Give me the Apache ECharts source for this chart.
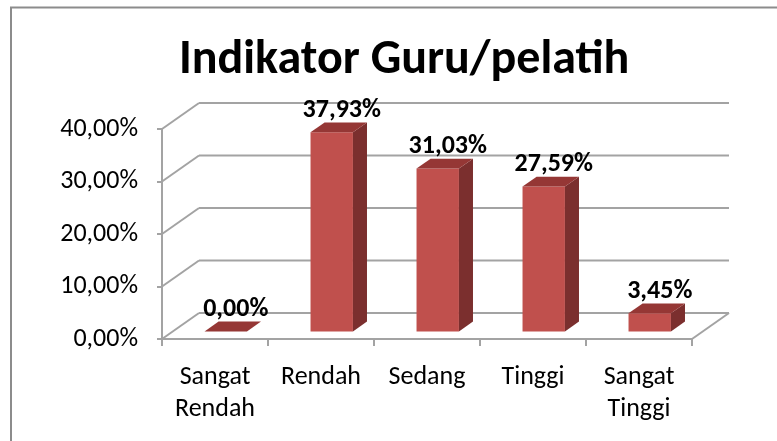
<!DOCTYPE html>
<html>
<head>
<meta charset="utf-8">
<script src="https://cdn.jsdelivr.net/npm/echarts@6/dist/echarts.min.js"></script>
<style>
html,body{margin:0;padding:0;background:#fff;}
#chart{width:777px;height:441px;}
</style>
</head>
<body>
<div id="chart"></div>
<script>
const categories = ['Sangat Rendah', 'Rendah', 'Sedang', 'Tinggi', 'Sangat Tinggi'];
const values = [0.0000, 0.3793, 0.3103, 0.2759, 0.0345];
const gridValues = [0, 0.1, 0.2, 0.3, 0.4];
const titleText = 'Indikator Guru/pelatih';

const FONT = 'Carlito, Calibri, Lato, sans-serif';
const DX = 37, DY = -26;          // depth of the 3D box
const T0 = 0.29, T1 = 0.67;       // bar depth span (fraction of box depth)
const BAR_W = 0.4;                // bar width fraction of band
const GRID_COLOR = '#a3a3a3';

function fmt(v) { return (v * 100).toFixed(2).replace('.', ',') + '%'; }

const chart = echarts.init(document.getElementById('chart'), null, {renderer: 'canvas'});

const option = {
  backgroundColor: '#ffffff',
  animation: false,
  title: {
    text: titleText,
    left: 174,
    top: 32,
    textStyle: {fontFamily: FONT, fontSize: 48, fontWeight: 'bold', color: '#000'}
  },
  graphic: [{
    type: 'polyline',
    shape: {points: [[11, 441], [11, 7.5], [777, 7.5]]},
    style: {stroke: '#8c8c8c', lineWidth: 2, fill: null},
    silent: true
  }],
  grid: {left: 162, right: 85, top: 129, bottom: 102, containLabel: false},
  xAxis: {
    type: 'category',
    data: categories,
    axisLine: {show: true, lineStyle: {color: GRID_COLOR, width: 2}},
    axisTick: {show: true, length: 7, lineStyle: {color: GRID_COLOR, width: 2}},
    axisLabel: {
      interval: 0,
      margin: 22,
      fontFamily: FONT, fontSize: 26, color: '#000', lineHeight: 32,
      formatter: v => v.replace(' ', '\n')
    },
    splitLine: {show: false}
  },
  yAxis: {
    type: 'value',
    min: 0, max: 0.4, interval: 0.1,
    axisLine: {show: true, lineStyle: {color: GRID_COLOR, width: 2}},
    axisTick: {show: true, length: 5, lineStyle: {color: GRID_COLOR, width: 2}},
    axisLabel: {margin: 24, fontFamily: FONT, fontSize: 26, color: '#000', formatter: fmt},
    splitLine: {show: false}
  },
  series: [
    {
      type: 'custom',
      name: 'walls',
      silent: true,
      z: 1,
      data: gridValues.map(v => [0, v]),
      renderItem: function (params, api) {
        const cs = params.coordSys;
        const x0 = cs.x, x1 = cs.x + cs.width;
        const y = api.coord([0, api.value(1)])[1];
        const children = [
          {type: 'line', shape: {x1: x0, y1: y, x2: x0 + DX, y2: y + DY},
           style: {stroke: GRID_COLOR, lineWidth: 2}},
          {type: 'line', shape: {x1: x0 + DX, y1: y + DY, x2: x1 + DX, y2: y + DY},
           style: {stroke: GRID_COLOR, lineWidth: 2}}
        ];
        if (api.value(1) === 0) {
          children.push({type: 'line', shape: {x1: x1, y1: y, x2: x1 + DX, y2: y + DY},
            style: {stroke: GRID_COLOR, lineWidth: 2}});
        }
        return {type: 'group', children: children};
      }
    },
    {
      type: 'custom',
      name: 'bars',
      z: 3,
      data: values.map((v, i) => [i, v]),
      renderItem: function (params, api) {
        const i = api.value(0), v = api.value(1);
        const top = api.coord([i, v]);
        const base = api.coord([i, 0]);
        const band = api.size([1, 0])[0];
        const w = band * BAR_W;
        const ox = DX * T0, oy = DY * T0;
        const dx = DX * (T1 - T0), dy = DY * (T1 - T0);
        const xl = top[0] - w / 2 + ox, xr = xl + w;
        const yt = top[1] + oy, yb = base[1] + oy;
        const children = [];
        if (yb - yt > 0.5) {
          children.push({type: 'rect', shape: {x: xl, y: yt, width: w, height: yb - yt},
            style: {fill: '#c0504d'}});
          children.push({type: 'polygon', shape: {points: [[xr, yt], [xr + dx, yt + dy], [xr + dx, yb + dy], [xr, yb]]},
            style: {fill: '#7b2f2e'}});
        }
        children.push({type: 'polygon', shape: {points: [[xl, yt], [xr, yt], [xr + dx, yt + dy], [xl + dx, yt + dy]]},
          style: {fill: '#953735'}});
        children.push({type: 'text', style: {
          text: fmt(v), x: (xl + xr) / 2 + dx / 2 + 3, y: yt + dy + 1,
          align: 'center', verticalAlign: 'bottom',
          font: 'bold 26px ' + FONT, fill: '#000'
        }});
        return {type: 'group', children: children};
      }
    }
  ]
};
chart.setOption(option);
</script>
</body>
</html>
